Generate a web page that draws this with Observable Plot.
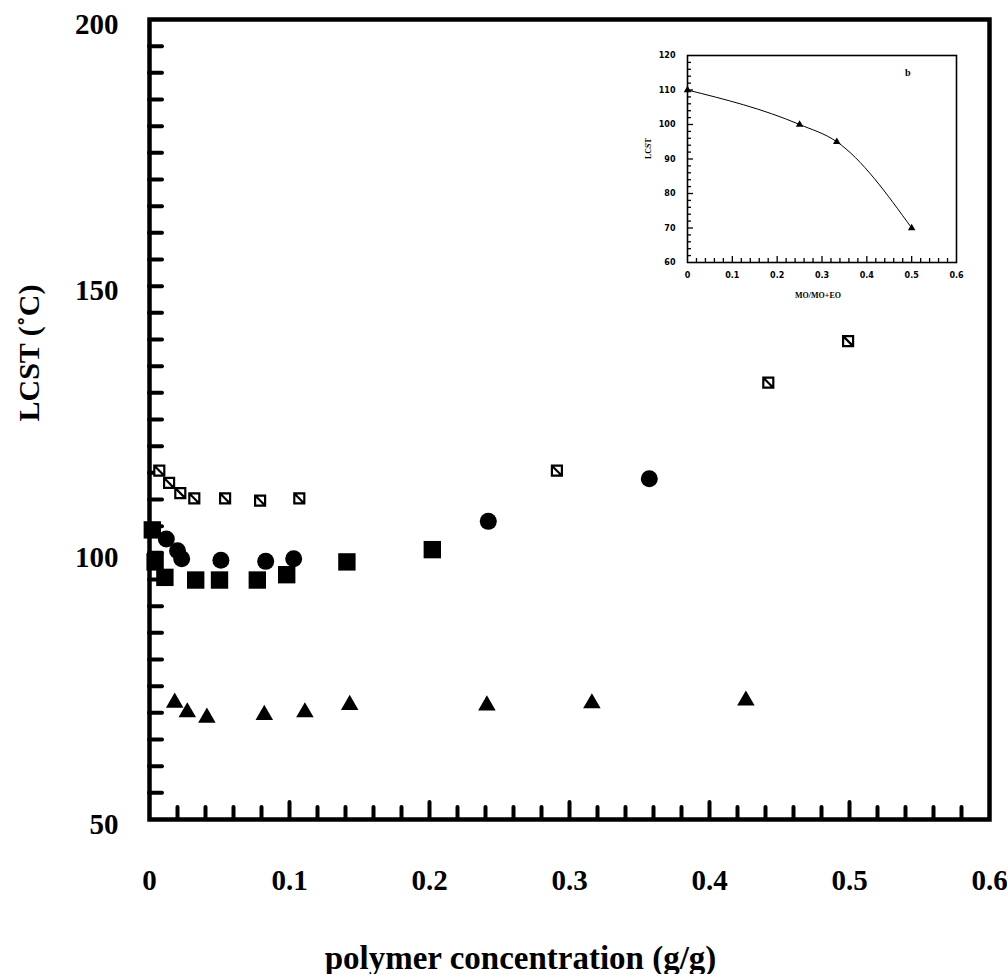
<!DOCTYPE html>
<html><head><meta charset="utf-8">
<script src="https://cdn.jsdelivr.net/npm/d3@7"></script>
<script src="https://cdn.jsdelivr.net/npm/@observablehq/plot@0.6"></script>
<style>
body{margin:0;background:#fff;}
#wrap{position:relative;width:1007px;height:974px;overflow:hidden;background:#fff;}
#main{position:absolute;left:0;top:0;}
#inset{position:absolute;left:640px;top:40px;}
</style></head><body><div id="wrap"><div id="main"></div><div id="inset"></div></div>
<script>
// ---- main chart data ----
const hatchX = [0.007, 0.014, 0.022, 0.032, 0.054, 0.079, 0.107, 0.291, 0.442, 0.499];
const hatchY = [115.4, 113.1, 111.2, 110.2, 110.2, 109.8, 110.2, 115.4, 131.9, 139.7];
const circleX = [0.012, 0.020, 0.023, 0.051, 0.083, 0.103, 0.242, 0.357];
const circleY = [102.6, 100.4, 98.9, 98.6, 98.4, 98.9, 105.9, 113.9];
const squareX = [0.002, 0.004, 0.011, 0.033, 0.050, 0.077, 0.098, 0.141, 0.202];
const squareY = [104.3, 98.3, 95.4, 94.9, 94.9, 94.9, 95.9, 98.3, 100.6];
const triX = [0.018, 0.027, 0.041, 0.082, 0.111, 0.143, 0.241, 0.316, 0.426];
const triY = [71.9, 70.1, 69.1, 69.6, 70.1, 71.5, 71.4, 71.8, 72.3];

const xTickValues = [0, 0.1, 0.2, 0.3, 0.4, 0.5, 0.6];
const xTickLabels = ["0", "0.1", "0.2", "0.3", "0.4", "0.5", "0.6"];
const yTickValues = [50, 100, 150, 200];
const yTickLabels = ["50", "100", "150", "200"];
const xTitle = "polymer concentration (g/g)";
const yTitle = "LCST (˚C)";

// ---- inset data ----
const insetX = [0, 0.25, 0.333, 0.5];
const insetY = [110, 100, 95, 70];
const insetXTickValues = [0, 0.1, 0.2, 0.3, 0.4, 0.5, 0.6];
const insetXTickLabels = ["0", "0.1", "0.2", "0.3", "0.4", "0.5", "0.6"];
const insetYTickValues = [60, 70, 80, 90, 100, 110, 120];
const insetYTickLabels = ["60", "70", "80", "90", "100", "110", "120"];
const insetXTitle = "MO/MO+EO";
const insetYTitle = "LCST";
const insetTag = "b";

const zip = (xs, ys) => xs.map((x, i) => ({x, y: ys[i]}));
const serif = "'Liberation Serif', 'Times New Roman', serif";
const sans = "'DejaVu Sans', sans-serif";

const hatchedSquare = {
  draw(context, size) {
    const h = Math.sqrt(size) / 2;
    context.moveTo(-h, -h); context.lineTo(h, -h); context.lineTo(h, h); context.lineTo(-h, h); context.closePath();
    context.moveTo(-h, -h); context.lineTo(h, h);
  }
};

// ---- main plot ----
const W = 1007, H = 974, mL = 149, mR = 18, mT = 19, mB = 155;
const fw = W - mL - mR, fh = H - mT - mB;
const xMinor = d3.range(1, 30).map(i => i / 50).filter(v => Math.abs(v * 10 - Math.round(v * 10)) > 1e-6);
const xMajor = [0.1, 0.2, 0.3, 0.4, 0.5];
const yMinor = d3.range(11, 40).map(i => i * 5);

const main = Plot.plot({
  width: W, height: H,
  marginLeft: mL, marginRight: mR, marginTop: mT, marginBottom: mB,
  x: {domain: [0, 0.6], axis: null},
  y: {domain: [50, 200], axis: null},
  style: {background: "white"},
  marks: [
    Plot.tickX(xMinor, {x: d => d, stroke: "black", strokeWidth: 4, strokeLinecap: "round", insetTop: fh - 12}),
    Plot.tickX(xMajor, {x: d => d, stroke: "black", strokeWidth: 4, strokeLinecap: "round", insetTop: fh - 17}),
    Plot.tickY(yMinor, {y: d => d, stroke: "black", strokeWidth: 4, strokeLinecap: "round", insetRight: fw - 13}),
    Plot.frame({stroke: "black", strokeWidth: 4.5}),
    Plot.text(xTickValues, {x: d => d, text: (d, i) => xTickLabels[i], frameAnchor: "bottom", dy: 61, lineAnchor: "middle",
      fontSize: 29, fontWeight: "bold", fontFamily: serif, fill: "black"}),
    Plot.text(yTickValues, {y: d => d, text: (d, i) => yTickLabels[i], frameAnchor: "left", dx: -31, dy: 5, textAnchor: "end", lineAnchor: "middle",
      fontSize: 29, fontWeight: "bold", fontFamily: serif, fill: "black"}),
    Plot.text([xTitle], {frameAnchor: "bottom", dx: -49, dy: 149, lineAnchor: "bottom",
      fontSize: 33, fontWeight: "bold", fontFamily: serif, fill: "black"}),
    Plot.text([yTitle], {frameAnchor: "left", dx: -120, dy: 2, rotate: -90, lineAnchor: "middle",
      fontSize: 30, fontWeight: "bold", fontFamily: serif, fill: "black"}),
    Plot.dot(zip(triX, triY), {x: "x", y: "y", symbol: "triangle", r: 6.5, fill: "black", stroke: "none"}),
    Plot.dot(zip(squareX, squareY), {x: "x", y: "y", symbol: "square", r: 9.8, fill: "black", stroke: "none"}),
    Plot.dot(zip(circleX, circleY), {x: "x", y: "y", symbol: "circle", r: 8.5, fill: "black", stroke: "none"}),
    Plot.dot(zip(hatchX, hatchY), {x: "x", y: "y", symbol: hatchedSquare, r: 5.64, fill: "white", stroke: "black", strokeWidth: 2.2})
  ]
});
document.getElementById("main").appendChild(main);

// ---- inset plot ----
const iW = 350, iH = 260, iL = 47, iR = 34, iT = 15, iB = 38;
const ifw = iW - iL - iR, ifh = iH - iT - iB;
const ixMinor = d3.range(1, 30).map(i => i / 50).filter(v => Math.abs(v * 10 - Math.round(v * 10)) > 1e-6);
const ixMajor = [0.1, 0.2, 0.3, 0.4, 0.5];
const iyMinor = d3.range(31, 60).map(i => i * 2).filter(v => v % 10 !== 0);
const iyMajor = [70, 80, 90, 100, 110];

const inset = Plot.plot({
  width: iW, height: iH,
  marginLeft: iL, marginRight: iR, marginTop: iT, marginBottom: iB,
  x: {domain: [0, 0.6], axis: null},
  y: {domain: [60, 120], axis: null},
  style: {background: "transparent", overflow: "visible"},
  marks: [
    Plot.tickX(ixMinor, {x: d => d, stroke: "black", strokeWidth: 1.3, insetTop: ifh - 4}),
    Plot.tickX(ixMajor, {x: d => d, stroke: "black", strokeWidth: 1.3, insetTop: ifh - 6}),
    Plot.tickY(iyMinor, {y: d => d, stroke: "black", strokeWidth: 1.3, insetRight: ifw - 4}),
    Plot.tickY(iyMajor, {y: d => d, stroke: "black", strokeWidth: 1.3, insetRight: ifw - 6}),
    Plot.frame({stroke: "black", strokeWidth: 1.6}),
    Plot.text(insetXTickValues, {x: d => d, text: (d, i) => insetXTickLabels[i], frameAnchor: "bottom", dy: 13, lineAnchor: "middle",
      fontSize: 8, fontWeight: "bold", fontFamily: sans, fill: "black"}),
    Plot.text(insetYTickValues, {y: d => d, text: (d, i) => insetYTickLabels[i], frameAnchor: "left", dx: -12, textAnchor: "end", lineAnchor: "middle",
      fontSize: 8, fontWeight: "bold", fontFamily: sans, fill: "black"}),
    Plot.text([insetXTitle], {frameAnchor: "bottom", dx: -4, dy: 33, lineAnchor: "middle",
      fontSize: 8, fontWeight: "bold", fontFamily: serif, fill: "black"}),
    Plot.text([insetYTitle], {frameAnchor: "left", dx: -39, rotate: -90, lineAnchor: "middle",
      fontSize: 8, fontWeight: "bold", fontFamily: serif, fill: "black"}),
    Plot.text([insetTag], {frameAnchor: "top-right", dx: -46, dy: 17, lineAnchor: "middle",
      fontSize: 10, fontWeight: "bold", fontFamily: serif, fill: "black"}),
    Plot.line(zip(insetX, insetY), {x: "x", y: "y", curve: "monotone-x", stroke: "black", strokeWidth: 1}),
    Plot.dot(zip(insetX, insetY), {x: "x", y: "y", symbol: "triangle", r: 2.8, fill: "black", stroke: "none"})
  ]
});
document.getElementById("inset").appendChild(inset);
</script></body></html>
